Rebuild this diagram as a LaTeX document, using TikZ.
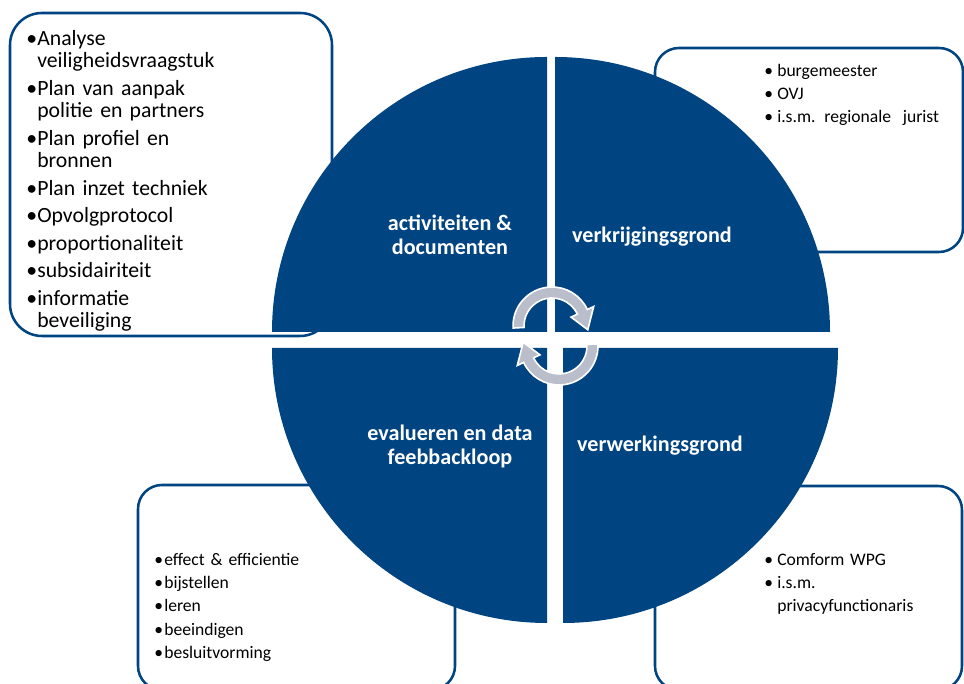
\documentclass[tikz,border=0pt]{standalone}
\usepackage{fontspec}
\setmainfont{Carlito}
\definecolor{navy}{RGB}{0,68,130}
\definecolor{cyclegray}{RGB}{186,190,203}
\newlength\bulgap
\newlength\bulind
% one bulleted entry with a hanging indent
\newcommand\bul[1]{\noindent\hangindent=\bulind\hangafter=1\makebox[\bulind][l]{\textbullet}#1\par\vskip\bulgap}

\begin{document}
\begin{tikzpicture}[x=0.75pt,y=0.75pt,
  quadrant/.style={fill=navy},
  listframe/.style={draw=navy,line width=1.9pt,fill=white},
  listtext/.style={anchor=north west,inner sep=0pt,text width=300pt},
  bigtext/.style={font=\fontsize{16.3}{16.9}\selectfont},
  smalltext/.style={font=\fontsize{13.2}{17.5}\selectfont},
  quadlabel/.style={text=white,font=\fontsize{16.6}{18}\selectfont\bfseries,align=center,inner sep=0pt},
  cyclearrow/.style={fill=cyclegray,draw=white,line width=1.2pt},
  pics/cycarrow/.style={code={
    \draw[cyclearrow] (183:39) arc (183:25:39) -- (25:46) -- (-6:36) -- (25:21) -- (25:28) arc (25:183:28) -- cycle;}}]
\useasboundingbox (0,0) rectangle (964,684);
\clip (0,0) rectangle (964,684);

% frames behind the circle
\draw[listframe,rounded corners=24pt] (10,348) rectangle (332,671);
\draw[listframe,rounded corners=18pt] (655,432) rectangle (963,636);
\draw[listframe,rounded corners=18pt] (138,-6) rectangle (455,199);
\draw[listframe,rounded corners=18pt] (655,-6) rectangle (962,198);

% the four quarters of the circle
\fill[quadrant] (547,352) -- (272,352) arc (180:90:275) -- cycle;
\fill[quadrant] (555,352) -- (555,627) arc (90:0:275) -- cycle;
\fill[quadrant] (547,336) -- (272,336) arc (180:270:275) -- cycle;
\fill[quadrant] (563,336) -- (838,336) arc (0:-90:275) -- cycle;

% cycle arrows in the middle
\pic at (552,358) {cycarrow};
\pic[rotate=180] at (559,338) {cycarrow};

% quarter labels
\node[quadlabel,anchor=north] (lblact) at (450,471.3) {\rule{0pt}{13pt}activiteiten \&\\documenten};
\node[quadlabel,anchor=base] (lblverk) at (652,441) {verkrijgingsgrond};
\node[quadlabel,anchor=north] (lbleval) at (450,261.3) {\rule{0pt}{13pt}evalueren en data\\feebbackloop};
\node[quadlabel,anchor=base] (lblverw) at (660,232) {verwerkingsgrond};

% bullet lists
\node[listtext,bigtext] (listact) at (26,655.7) {\setlength\bulind{8.25pt}\setlength\bulgap{3.7pt}%
  \bul{\rule{0pt}{12.5pt}Analyse\newline veiligheidsvraagstuk}
  \bul{Plan van aanpak\newline politie en partners}
  \bul{Plan profiel en\newline bronnen}
  \bul{Plan inzet techniek}
  \bul{Opvolgprotocol}
  \bul{proportionaliteit}
  \bul{subsidairiteit}
  \bul{informatie\newline beveiliging}};
\node[listtext,smalltext] (listverk) at (764,622) {\setlength\bulind{9.75pt}\setlength\bulgap{0pt}%
  \bul{\rule{0pt}{10.5pt}burgemeester}
  \bul{OVJ}
  \bul{i.s.m. regionale\ \ jurist}};
\node[listtext,smalltext] (listeval) at (154,133) {\setlength\bulind{7.5pt}\setlength\bulgap{0pt}%
  \bul{\rule{0pt}{10.5pt}effect \& efficientie}
  \bul{bijstellen}
  \bul{leren}
  \bul{beeindigen}
  \bul{besluitvorming}};
\node[listtext,smalltext] (listverw) at (764,133) {\setlength\bulind{9.75pt}\setlength\bulgap{0pt}%
  \bul{\rule{0pt}{10.5pt}Comform WPG}
  \bul{i.s.m.\newline privacyfunctionaris}};
\end{tikzpicture}
\end{document}
